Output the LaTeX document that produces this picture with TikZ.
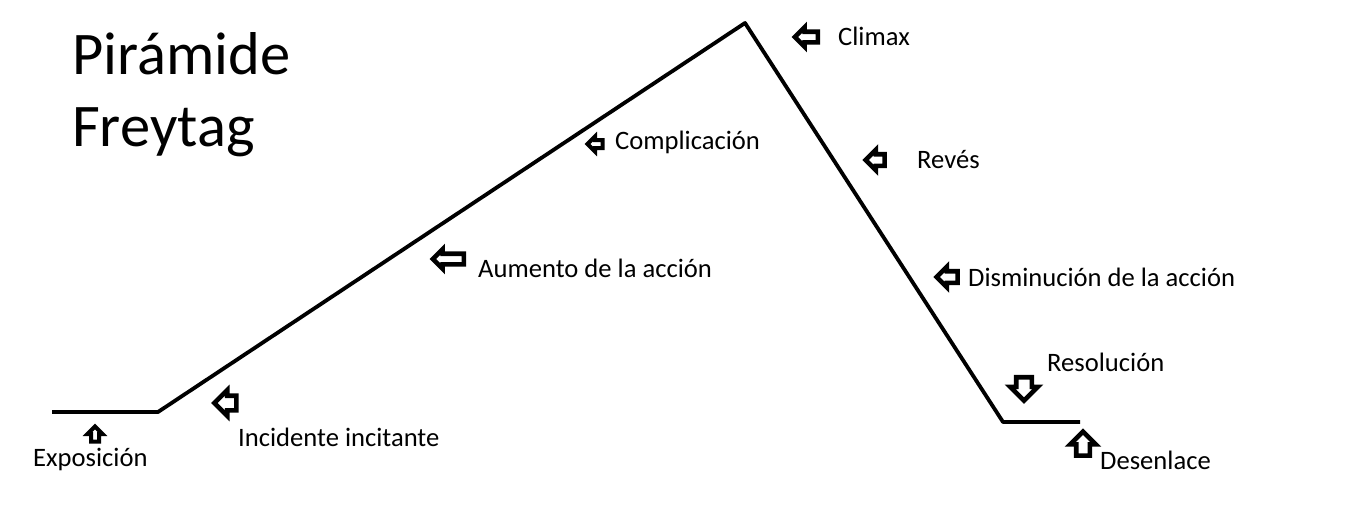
\documentclass[tikz,border=0pt]{standalone}
\usepackage{fontspec}
\setmainfont{Carlito}
\usetikzlibrary{shapes.arrows}
\begin{document}
\begin{tikzpicture}[x=1pt,y=-1pt,
  lbl/.style={anchor=base west,inner sep=0pt,font=\fontsize{26.6}{30}\selectfont},
  blk/.style={single arrow,draw=black,fill=white,line width=4.6pt,inner sep=3pt,
    single arrow head extend=4.5pt,single arrow tip angle=90,minimum height=#1},
  larr/.style={blk=#1,shape border rotate=180},
  uarr/.style={blk=#1,shape border rotate=90},
  darr/.style={blk=#1,shape border rotate=270}]
\useasboundingbox (0,0) rectangle (1360,530);
\fill[white] (0,0) rectangle (1360,530);
\coordinate (p1) at (52,412);
\coordinate (p2) at (158,412);
\coordinate (p3) at (745,23);
\coordinate (p4) at (1003,422);
\coordinate (p5) at (1080,422);
\draw[line width=3.8pt,line join=round] (p1) -- (p2) -- (p3) -- (p4) -- (p5);
\node[anchor=north west,inner sep=0pt,align=left,font=\fontsize{60.5}{72}\selectfont] (title) at (72,32) {Pirámide\\Freytag};
\node[lbl] (tclimax) at (838,45) {Climax};
\node[lbl] (tcompl) at (615,149) {Complicación};
\node[lbl] (treves) at (917,168) {Revés};
\node[lbl] (taum) at (478,277) {Aumento de la acción};
\node[lbl] (tdism) at (968,286) {Disminución de la acción};
\node[lbl] (tres) at (1047,371) {Resolución};
\node[lbl] (tdes) at (1100,469) {Desenlace};
\node[lbl] (texp) at (33,466) {Exposición};
\node[lbl] (tinc) at (238,446) {Incidente incitante};
\node[larr=23pt] (aclimax) at (809,37) {};
\node[larr=15pt,line width=4pt,inner sep=2pt,single arrow head extend=3.5pt] (acompl) at (597,144) {};
\node[larr=19pt,inner sep=3.5pt] (areves) at (878,160) {};
\node[larr=31pt] (aaum) at (451,259) {};
\node[larr=21pt,inner sep=3.5pt] (adism) at (950,277) {};
\node[darr=23pt,inner sep=5.5pt,single arrow head extend=6pt] (ares) at (1024,385) {};
\node[uarr=24pt,inner sep=4.5pt,single arrow head extend=6pt] (ades) at (1083,447) {};
\node[uarr=15pt,line width=4pt,inner sep=2pt,single arrow head extend=3.5pt] (aexp) at (95,436) {};
\node[larr=21pt,inner sep=5pt,single arrow head extend=5.5pt] (ainc) at (229,403) {};
\end{tikzpicture}
\end{document}
